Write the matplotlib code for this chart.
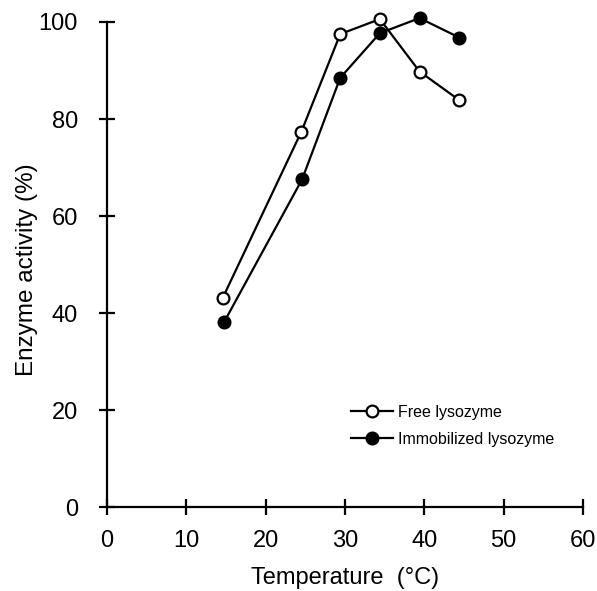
import matplotlib
matplotlib.use("Agg")
import matplotlib.pyplot as plt

plt.rcParams['font.family'] = ['Liberation Sans', 'DejaVu Sans']

# values
temp_free = [14.6, 24.5, 29.4, 34.4, 39.4, 44.4]
act_free = [43.2, 77.4, 97.5, 100.6, 89.8, 83.9]
temp_immob = [14.8, 24.6, 29.4, 34.4, 39.4, 44.4]
act_immob = [38.3, 67.6, 88.5, 97.7, 100.8, 96.8]

xticks = [0, 10, 20, 30, 40, 50, 60]
yticks = [0, 20, 40, 60, 80, 100]

fig = plt.figure(figsize=(5.97, 5.91), dpi=100)
ax = fig.add_axes([0.1792, 0.1413, 0.7973, 0.8215])

ax.plot(temp_free, act_free, '-o', color='black', lw=1.6, ms=8.5,
        mfc='white', mec='black', mew=1.6, clip_on=False, zorder=3,
        label='Free lysozyme')
ax.plot(temp_immob, act_immob, '-o', color='black', lw=1.6, ms=8.5,
        mfc='black', mec='black', mew=1.6, clip_on=False, zorder=3,
        label='Immobilized lysozyme')

ax.set_xlim(0, 60)
ax.set_ylim(0, 100)
ax.set_xticks(xticks)
ax.set_yticks(yticks)

for s in ['top', 'right']:
    ax.spines[s].set_visible(False)
for s in ['left', 'bottom']:
    ax.spines[s].set_linewidth(1.6)

ax.tick_params(axis='both', direction='inout', length=12, width=1.6,
               labelsize=17)
ax.tick_params(axis='x', pad=10)
ax.tick_params(axis='y', pad=15)

ax.set_xlabel('Temperature  (°C)', fontsize=17, labelpad=11)
ax.set_ylabel('Enzyme activity (%)', fontsize=17.5)
ax.yaxis.set_label_coords(-0.145, 0.49)

ax.legend(loc='upper left', bbox_to_anchor=(0.513, 0.212), frameon=False,
          fontsize=11.5, handlelength=2.6, handletextpad=0.35,
          labelspacing=0.75, borderpad=0, borderaxespad=0)

fig.savefig('out.png', dpi=100)
